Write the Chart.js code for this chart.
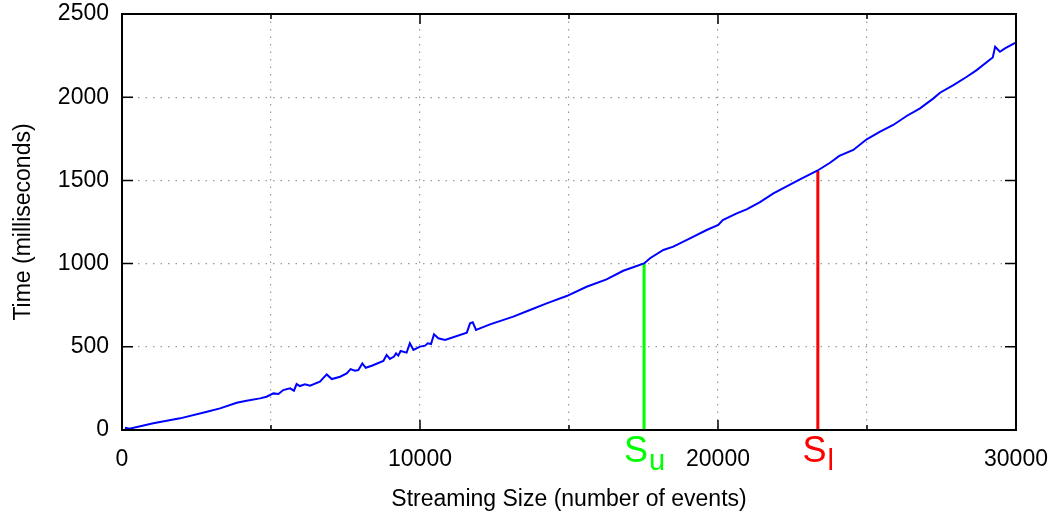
<!DOCTYPE html>
<html>
<head>
<meta charset="utf-8">
<script src="https://cdn.jsdelivr.net/npm/chart.js@4/dist/chart.umd.min.js"></script>
<style>
  body { margin: 0; background: #fff; }
  canvas { display: block; }
</style>
</head>
<body>
<canvas id="timing" width="1057" height="517"></canvas>
<script>
// streaming size (events) and processing time (ms)
const sizes = [100, 250, 1050, 1950, 2850, 3290, 3850, 4180, 4630, 4850, 5080, 5250, 5410, 5640, 5770, 5860, 5970, 6140, 6310, 6640, 6870, 7040, 7320, 7540, 7670, 7820, 7930, 8065, 8180, 8380, 8770, 8880, 8990, 9130, 9195, 9270, 9350, 9550, 9660, 9780, 10000, 10170, 10260, 10370, 10470, 10615, 10840, 11570, 11680, 11770, 11880, 12010, 12350, 13130, 13690, 14250, 14920, 15590, 16260, 16820, 17520, 17720, 18165, 18500, 19060, 19620, 20010, 20160, 20630, 20960, 21410, 21860, 22750, 23330, 23760, 24070, 24540, 24990, 25440, 25880, 26330, 26780, 27230, 27450, 27900, 28350, 28680, 29130, 29220, 29300, 29460, 29630, 29970];
const times = [14, 7, 40, 70, 110, 130, 164, 176, 190, 200, 220, 216, 240, 250, 236, 276, 264, 274, 266, 290, 334, 306, 320, 340, 366, 356, 360, 400, 374, 386, 415, 451, 427, 441, 461, 447, 475, 465, 521, 481, 501, 507, 521, 517, 575, 551, 541, 585, 641, 647, 601, 611, 635, 681, 721, 761, 805, 861, 905, 957, 1001, 1032, 1082, 1102, 1152, 1202, 1232, 1262, 1302, 1326, 1370, 1422, 1506, 1558, 1606, 1647, 1683, 1747, 1793, 1833, 1887, 1933, 1993, 2027, 2073, 2123, 2163, 2227, 2239, 2303, 2273, 2293, 2327];

// marker lines S_u and S_l
const markerNames = ['u', 'l'];
const markerSizes = [17520, 23350];
const markerTimes = [1001, 1556];
const markerColors = ['#00ff00', '#ff0000'];

const xTicks = [0, 10000, 20000, 30000];

const font = 'Liberation Sans, Arial, sans-serif';
const fontSize = 23;

const markerSets = markerNames.map((n, i) => ({
  label: 'S' + n,
  data: [{ x: markerSizes[i], y: 0 }, { x: markerSizes[i], y: markerTimes[i] }],
  borderColor: markerColors[i],
  borderWidth: 3,
  pointRadius: 0
}));

const frame = {
  id: 'frame',
  afterDraw(chart) {
    const { ctx, chartArea: a, scales } = chart;
    const xs = scales.x, ys = scales.y;
    ctx.save();
    ctx.strokeStyle = '#000';
    ctx.lineWidth = 2;
    ctx.strokeRect(a.left, a.top, a.right - a.left, a.bottom - a.top);
    ctx.lineWidth = 1.5;
    ctx.beginPath();
    ys.ticks.forEach(t => {
      const py = ys.getPixelForValue(t.value);
      ctx.moveTo(a.left, py); ctx.lineTo(a.left + 11, py);
      ctx.moveTo(a.right, py); ctx.lineTo(a.right - 11, py);
    });
    xs.ticks.forEach(t => {
      const px = xs.getPixelForValue(t.value);
      const len = t.value % 10000 === 0 ? 10 : 5;
      ctx.moveTo(px, a.bottom); ctx.lineTo(px, a.bottom - len);
      ctx.moveTo(px, a.top); ctx.lineTo(px, a.top + len);
    });
    ctx.stroke();

    // S_u / S_l labels under the marker lines
    markerNames.forEach((n, i) => {
      const px = xs.getPixelForValue(markerSizes[i]);
      ctx.fillStyle = markerColors[i];
      ctx.textBaseline = 'alphabetic';
      ctx.textAlign = 'left';
      ctx.font = '36px ' + font;
      const wS = ctx.measureText('S').width;
      ctx.font = '29px ' + font;
      const wSub = ctx.measureText(n).width;
      const x0 = px - (wS + wSub) / 2;
      ctx.font = '36px ' + font;
      ctx.fillText('S', x0, a.bottom + 32);
      ctx.font = '29px ' + font;
      ctx.fillText(n, x0 + wS + 1, a.bottom + 40);
    });
    ctx.restore();
  }
};

new Chart(document.getElementById('timing'), {
  type: 'line',
  data: {
    datasets: [
      {
        label: 'time',
        data: sizes.map((s, i) => ({ x: s, y: times[i] })),
        borderColor: '#0000ff',
        borderWidth: 2,
        pointRadius: 0,
        tension: 0
      },
      ...markerSets
    ]
  },
  options: {
    responsive: false,
    animation: false,
    layout: { padding: { left: 0, right: 41, top: 14, bottom: 0 } },
    plugins: { legend: { display: false }, tooltip: { enabled: false } },
    scales: {
      x: {
        type: 'linear',
        min: 0, max: 30000,
        afterFit: s => { s.height = 87; s.paddingLeft = 0; s.paddingRight = 0; },
        ticks: {
          stepSize: 5000,
          padding: 16,
          color: '#000',
          font: { family: font, size: fontSize },
          maxRotation: 0,
          callback: v => xTicks.includes(v) ? String(v) : ''
        },
        grid: { color: '#9a9a9a', lineWidth: 1.2, drawTicks: false },
        border: { display: true, color: '#000', width: 2, dash: [1.5, 6] },
        title: {
          display: true,
          text: 'Streaming Size (number of events)',
          color: '#000',
          font: { family: font, size: fontSize },
          padding: { top: 0, bottom: 4 }
        }
      },
      y: {
        min: 0, max: 2500,
        afterFit: s => { s.width = 122; s.paddingTop = 0; s.paddingBottom = 0; },
        ticks: {
          stepSize: 500,
          padding: 13,
          color: '#000',
          font: { family: font, size: fontSize },
          callback: v => String(v)
        },
        grid: { color: '#9a9a9a', lineWidth: 1.2, drawTicks: false },
        border: { display: true, color: '#000', width: 2, dash: [1.5, 6] },
        title: {
          display: true,
          text: 'Time (milliseconds)',
          color: '#000',
          font: { family: font, size: fontSize },
          padding: { top: 10, bottom: 0 }
        }
      }
    }
  },
  plugins: [frame]
});
</script>
</body>
</html>
